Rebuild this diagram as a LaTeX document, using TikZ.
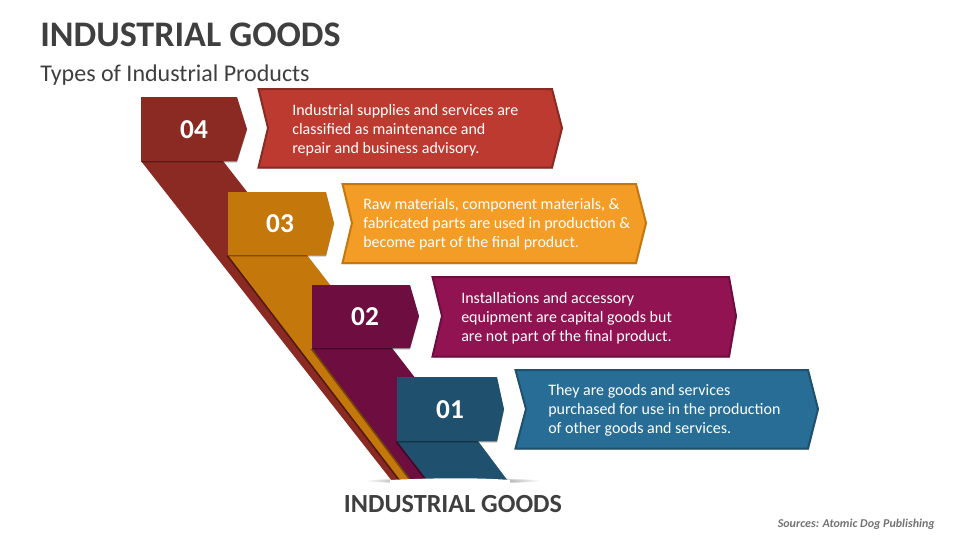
\documentclass[tikz,border=0pt]{standalone}
\usepackage{fontspec}
\setmainfont{Carlito}
\usetikzlibrary{
  shadows
}
\definecolor{redBox}{HTML}{8B2A22}
\definecolor{redArrow}{HTML}{BC3A30}
\definecolor{orangeBox}{HTML}{C4770A}
\definecolor{orangeArrow}{HTML}{F39C26}
\definecolor{purpleBox}{HTML}{6E0D3F}
\definecolor{purpleArrow}{HTML}{921352}
\definecolor{blueBox}{HTML}{1F506E}
\definecolor{blueArrow}{HTML}{276D96}
\definecolor{titleGray}{HTML}{3F3F3F}

\begin{document}
\begin{tikzpicture}[
    x=0.75pt, y=-0.75pt,
    ribbon/.style={
      drop shadow={fill=black, opacity=0.4, shadow xshift=-1.2pt, shadow yshift=-0.6pt}
    },
    numbox/.style={
      drop shadow={fill=black, opacity=0.4, shadow xshift=0pt, shadow yshift=-1pt}
    },
    textarrow/.style={
      line width=1.5pt,
      line join=miter,
      drop shadow={fill=black!60, opacity=0.3, shadow xshift=0.6pt, shadow yshift=-1pt}
    },
    number/.style={
      text=white,
      font=\fontsize{20.5}{24}\selectfont\bfseries
    },
    blurb/.style={
      text=white,
      anchor=west,
      align=left,
      inner sep=0pt,
      font=\fontsize{12}{14.25}\selectfont
    }
  ]
  \useasboundingbox (0,0) rectangle (960,540);

  \begin{scope}
    \node[anchor=base west, inner sep=0pt, text=titleGray, font=\fontsize{27}{32}\selectfont\bfseries] (title) at (40,46) {INDUSTRIAL GOODS};
    \node[anchor=base west, inner sep=0pt, text=titleGray, font=\fontsize{18}{22}\selectfont] (subtitle) at (40,81) {Types of Industrial Products};

    % floor shadow
    \shade[inner color=black!80, outer color=white] (453,480.5) ellipse (88 and 3.5);

    % 04
    \fill[redBox] (141,161) -- (223,161) -- (473,481) -- (392,481) -- cycle;
    \fill[redBox, numbox] (141,97) -- (237,97) -- (247,129) -- (237,161) -- (141,161) -- cycle;
    \node[number] (num04) at (194,130) {04};
    \draw[redBox, fill=redArrow, textarrow] (258.5,89) -- (552,89) -- (562,128) -- (552,167.5) -- (258.5,167.5) -- (268,128) -- cycle;
    \node[blurb] (text04) at (292,130) {Industrial supplies and services are\\classified as maintenance and\\repair and business advisory.};

    % 03
    \fill[orangeBox, ribbon] (228,255) -- (307,255) -- (482,481) -- (401,481) -- cycle;
    \fill[orangeBox, numbox] (228,192) -- (326,192) -- (334,223) -- (326,255) -- (228,255) -- cycle;
    \node[number] (num03) at (280,224) {03};
    \draw[orangeBox, fill=orangeArrow, textarrow] (342.5,184) -- (636,184) -- (646,223) -- (636,263) -- (342.5,263) -- (352,223) -- cycle;
    \node[blurb] (text03) at (363,224) {Raw materials, component materials, \&\\fabricated parts are used in production \&\\become part of the final product.};

    % 02
    \fill[purpleBox, ribbon] (312,348) -- (392,348) -- (495,481) -- (412,481) -- cycle;
    \fill[purpleBox, numbox] (312,285) -- (410,285) -- (419,316) -- (410,348) -- (312,348) -- cycle;
    \node[number] (num02) at (365,317) {02};
    \draw[purpleBox, fill=purpleArrow, textarrow] (432.5,277) -- (729,277) -- (736,316) -- (729,356.5) -- (432.5,356.5) -- (442,316) -- cycle;
    \node[blurb] (text02) at (461,318) {Installations and accessory\\equipment are capital goods but\\are not part of the final product.};

    % 01
    \fill[blueBox, ribbon] (397,441) -- (478,441) -- (508,481) -- (428,481) -- cycle;
    \fill[blueBox, numbox] (397,377) -- (497,377) -- (504,409) -- (497,441) -- (397,441) -- cycle;
    \node[number] (num01) at (450,410) {01};
    \draw[blueBox, fill=blueArrow, textarrow] (515.5,370) -- (808,370) -- (818,409) -- (808,448.5) -- (515.5,448.5) -- (526,409) -- cycle;
    \node[blurb] (text01) at (548,410) {They are goods and services\\purchased for use in the production\\of other goods and services.};

    % floor edge
    \fill[white] (390,480) .. controls (420,478.5) and (470,477) .. (510,480) -- (510,486) -- (390,486) -- cycle;

    \node[text=titleGray, inner sep=0pt, font=\fontsize{19.6}{23}\selectfont\bfseries] (caption) at (453,504) {INDUSTRIAL GOODS};
    \node[anchor=base east, inner sep=0pt, text=black!55, font=\fontsize{9}{11}\selectfont\bfseries\itshape] (source) at (935,527) {Sources: Atomic Dog Publishing};
  \end{scope}
\end{tikzpicture}
\end{document}
